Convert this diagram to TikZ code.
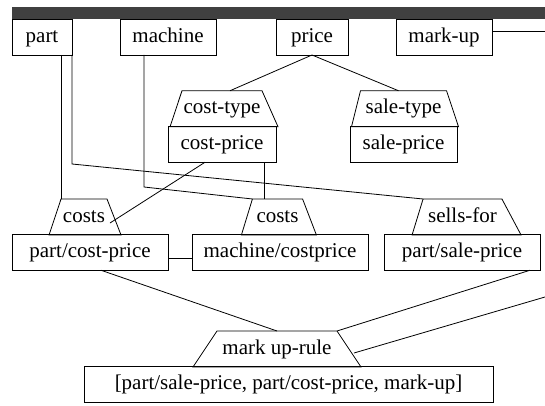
\documentclass[tikz,border=0pt]{standalone}
\usepackage{fontspec}
\setmainfont{Liberation Serif}
\newfontfamily\diagfont{Liberation Serif}
\usetikzlibrary{shapes.geometric,positioning,calc}
\definecolor{barfill}{RGB}{64,64,64}

\begin{document}
\begin{tikzpicture}[
    x=1pt, y=-1pt,
    entity/.style={draw, line width=0.8pt, inner xsep=1pt, inner ysep=7.75pt, outer sep=0pt, text height=15pt, text depth=5pt, font=\diagfont\fontsize{21}{25}\selectfont},
    link/.style={draw, line width=0.8pt, trapezium, trapezium stretches body, inner xsep=1pt, inner ysep=8pt, outer sep=0pt, text height=15pt, text depth=5pt, font=\diagfont\fontsize{21}{25}\selectfont},
    wire/.style={line width=0.8pt}
]
    \useasboundingbox (0,0) rectangle (545,406);

    % Top bar
    \fill[barfill] (12,7) rectangle (545,19.5);

    % Entities
    \node[entity, minimum width=60pt] (part) at (42,37.25) {part};
    \node[entity, minimum width=96pt] (machine) at (168,37.25) {machine};
    \node[entity, minimum width=72pt] (price) at (312,37.25) {price};
    \node[entity, minimum width=96pt] (markup) at (444,37.25) {mark-up};

    % Price subtypes
    \node[entity, minimum width=108pt] (costprice) at (222,144.5) {cost-price};
    \node[entity, minimum width=107pt] (saleprice) at (403.5,144.5) {sale-price};
    \node[link, minimum width=108pt, trapezium left angle=71.6, trapezium right angle=66, above=0pt of costprice] (costtype) {cost-type};
    \node[link, minimum width=107pt, trapezium left angle=76, trapezium right angle=71.6, above=0pt of saleprice] (saletype) {sale-type};

    % Relationships
    \node[entity, minimum width=156pt] (partcost) at (90,252.5) {part/cost-price};
    \node[entity, minimum width=176pt] (machcost) at (280,252.5) {machine/costprice};
    \node[entity, minimum width=156pt] (partsale) at (462,252.5) {part/sale-price};
    \node[link, minimum width=72pt, trapezium left angle=71.6, trapezium right angle=68.7, anchor=south] (costsL) at (84,235) {costs};
    \node[link, minimum width=75pt, trapezium left angle=73, trapezium right angle=69, anchor=south] (costsM) at (277.5,235) {costs};
    \node[link, minimum width=109pt, trapezium left angle=73, trapezium right angle=62, anchor=south] (sellsfor) at (462.5,235) {sells-for};

    % Rule
    \node[entity, minimum width=409pt] (ruleargs) at (288.5,384.5) {[part/sale-price, part/cost-price, mark-up]};
    \node[link, minimum width=168pt, trapezium left angle=56.3, trapezium right angle=56.3, anchor=south] (rule) at (277,367) {mark up-rule};

    % Connections
    \coordinate (rimA) at (545,31);
    \coordinate (rimB) at (545,297);
    \draw[wire] (part.south -| costsL.top left corner) -- (costsL.top left corner);
    \draw[wire] (part.south east) -- ++(0,109) -- (sellsfor.top left corner);
    \draw[wire] ([xshift=-24pt]machine.south) -- ++(0,132) -- (costsM.top left corner);
    \draw[wire] (price.south) -- ([xshift=8pt]costtype.north);
    \draw[wire] (price.south) -- ([xshift=-5pt]saletype.north);
    \draw[wire] (markup.east |- rimA) -- (rimA);
    \draw[wire] ([xshift=-17pt]costprice.south) -- ($(costsL.center)+(26,6)$);
    \draw[wire] ([xshift=42pt]costprice.south) -- ([xshift=42pt]costprice.south |- costsM.north);
    \draw[wire] ([yshift=-6pt]partcost.east) -- ([yshift=-6pt]machcost.west);
    \draw[wire] ([xshift=11pt]partcost.south) -- (rule.north);
    \draw[wire] ([xshift=-10pt]partsale.south east) -- (rule.top right corner);
    \draw[wire] (rimB) -- ($(rule.center)+(77,4)$);
\end{tikzpicture}
\end{document}
